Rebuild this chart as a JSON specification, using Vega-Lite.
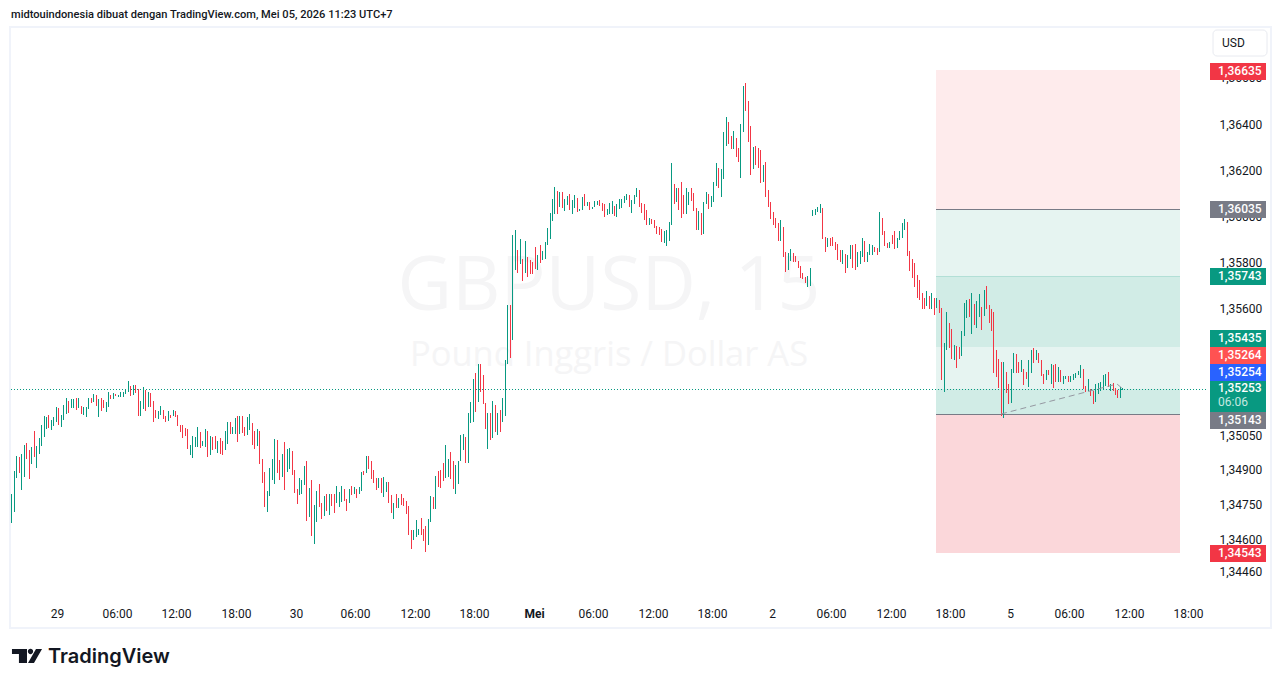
{"$schema":"https://vega.github.io/schema/vega-lite/v6.json","width":1261,"height":601,"autosize":"none","padding":{"left":10,"top":27,"right":10,"bottom":60},"background":"#ffffff","view":{"stroke":"#f0f3fa","strokeWidth":2,"fill":"#ffffff"},"title":{"text":"midtouindonesia dibuat dengan TradingView.com, Mei 05, 2026 11:23 UTC+7","anchor":"start","frame":"group","font":"Roboto","fontSize":11.1,"fontWeight":500,"color":"#131722","offset":7,"dx":1},"datasets":{"candles":[{"i":0,"h":1.34797,"l":1.34671,"d":"u"},{"i":1,"h":1.34897,"l":1.34719,"d":"u"},{"i":2,"h":1.34962,"l":1.34866,"d":"u"},{"i":3,"h":1.34957,"l":1.34888,"d":"d"},{"i":4,"h":1.3497,"l":1.34814,"d":"u"},{"i":5,"h":1.35009,"l":1.34871,"d":"u"},{"i":6,"h":1.35018,"l":1.34949,"d":"d"},{"i":7,"h":1.34988,"l":1.34862,"d":"d"},{"i":8,"h":1.35001,"l":1.34927,"d":"u"},{"i":9,"h":1.3507,"l":1.34957,"d":"d"},{"i":10,"h":1.35005,"l":1.3491,"d":"u"},{"i":11,"h":1.3504,"l":1.3497,"d":"u"},{"i":12,"h":1.35096,"l":1.35005,"d":"u"},{"i":13,"h":1.35135,"l":1.35044,"d":"u"},{"i":14,"h":1.35131,"l":1.35079,"d":"u"},{"i":15,"h":1.3514,"l":1.35083,"d":"d"},{"i":16,"h":1.35118,"l":1.35075,"d":"u"},{"i":17,"h":1.35131,"l":1.35092,"d":"u"},{"i":18,"h":1.35174,"l":1.35109,"d":"u"},{"i":19,"h":1.3517,"l":1.35096,"d":"d"},{"i":20,"h":1.3514,"l":1.35088,"d":"u"},{"i":21,"h":1.35183,"l":1.35118,"d":"u"},{"i":22,"h":1.35213,"l":1.35144,"d":"u"},{"i":23,"h":1.352,"l":1.35148,"d":"d"},{"i":24,"h":1.35209,"l":1.3517,"d":"u"},{"i":25,"h":1.35209,"l":1.3517,"d":"u"},{"i":26,"h":1.35213,"l":1.35161,"d":"d"},{"i":27,"h":1.35213,"l":1.3517,"d":"u"},{"i":28,"h":1.35179,"l":1.35144,"d":"d"},{"i":29,"h":1.35174,"l":1.3514,"d":"u"},{"i":30,"h":1.35174,"l":1.35131,"d":"u"},{"i":31,"h":1.35213,"l":1.35166,"d":"u"},{"i":32,"h":1.35213,"l":1.35192,"d":"d"},{"i":33,"h":1.35231,"l":1.35196,"d":"u"},{"i":34,"h":1.35226,"l":1.35179,"d":"d"},{"i":35,"h":1.35209,"l":1.35131,"d":"u"},{"i":36,"h":1.35213,"l":1.35157,"d":"d"},{"i":37,"h":1.35205,"l":1.3517,"d":"d"},{"i":38,"h":1.35196,"l":1.35153,"d":"u"},{"i":39,"h":1.35239,"l":1.35174,"d":"u"},{"i":40,"h":1.35226,"l":1.35209,"d":"d"},{"i":41,"h":1.35235,"l":1.35209,"d":"u"},{"i":42,"h":1.35231,"l":1.35222,"d":"d"},{"i":43,"h":1.35226,"l":1.35218,"d":"u"},{"i":44,"h":1.35239,"l":1.35218,"d":"u"},{"i":45,"h":1.35239,"l":1.35218,"d":"u"},{"i":46,"h":1.35248,"l":1.35231,"d":"u"},{"i":47,"h":1.35287,"l":1.35239,"d":"u"},{"i":48,"h":1.35265,"l":1.35222,"d":"d"},{"i":49,"h":1.3527,"l":1.35226,"d":"u"},{"i":50,"h":1.3527,"l":1.35235,"d":"d"},{"i":51,"h":1.35252,"l":1.35135,"d":"d"},{"i":52,"h":1.352,"l":1.35135,"d":"u"},{"i":53,"h":1.35261,"l":1.35166,"d":"u"},{"i":54,"h":1.35248,"l":1.35157,"d":"d"},{"i":55,"h":1.35239,"l":1.35174,"d":"u"},{"i":56,"h":1.35235,"l":1.35174,"d":"d"},{"i":57,"h":1.352,"l":1.35109,"d":"d"},{"i":58,"h":1.35161,"l":1.35127,"d":"d"},{"i":59,"h":1.35157,"l":1.35122,"d":"u"},{"i":60,"h":1.35179,"l":1.3514,"d":"u"},{"i":61,"h":1.35161,"l":1.35122,"d":"d"},{"i":62,"h":1.35135,"l":1.35109,"d":"d"},{"i":63,"h":1.35157,"l":1.35114,"d":"u"},{"i":64,"h":1.3514,"l":1.35127,"d":"d"},{"i":65,"h":1.35161,"l":1.35135,"d":"u"},{"i":66,"h":1.35157,"l":1.35131,"d":"d"},{"i":67,"h":1.3514,"l":1.35092,"d":"d"},{"i":68,"h":1.35096,"l":1.35066,"d":"d"},{"i":69,"h":1.35096,"l":1.3504,"d":"d"},{"i":70,"h":1.35083,"l":1.35049,"d":"d"},{"i":71,"h":1.35079,"l":1.34992,"d":"d"},{"i":72,"h":1.35009,"l":1.34966,"d":"u"},{"i":73,"h":1.35049,"l":1.34953,"d":"u"},{"i":74,"h":1.35044,"l":1.35001,"d":"u"},{"i":75,"h":1.35088,"l":1.35001,"d":"u"},{"i":76,"h":1.35066,"l":1.34996,"d":"d"},{"i":77,"h":1.35027,"l":1.35005,"d":"u"},{"i":78,"h":1.35079,"l":1.35001,"d":"u"},{"i":79,"h":1.3507,"l":1.34957,"d":"d"},{"i":80,"h":1.35049,"l":1.34966,"d":"u"},{"i":81,"h":1.35044,"l":1.34988,"d":"d"},{"i":82,"h":1.35049,"l":1.34992,"d":"d"},{"i":83,"h":1.35027,"l":1.34975,"d":"u"},{"i":84,"h":1.3504,"l":1.3497,"d":"d"},{"i":85,"h":1.35027,"l":1.34966,"d":"d"},{"i":86,"h":1.3507,"l":1.34988,"d":"u"},{"i":87,"h":1.35109,"l":1.35014,"d":"u"},{"i":88,"h":1.35109,"l":1.35057,"d":"d"},{"i":89,"h":1.35088,"l":1.35057,"d":"u"},{"i":90,"h":1.35127,"l":1.35057,"d":"u"},{"i":91,"h":1.35135,"l":1.35022,"d":"d"},{"i":92,"h":1.35135,"l":1.35057,"d":"u"},{"i":93,"h":1.35135,"l":1.35062,"d":"d"},{"i":94,"h":1.35088,"l":1.35049,"d":"d"},{"i":95,"h":1.35131,"l":1.35053,"d":"u"},{"i":96,"h":1.35144,"l":1.35075,"d":"u"},{"i":97,"h":1.35105,"l":1.35009,"d":"d"},{"i":98,"h":1.3507,"l":1.34992,"d":"d"},{"i":99,"h":1.35079,"l":1.35005,"d":"u"},{"i":100,"h":1.3507,"l":1.34927,"d":"d"},{"i":101,"h":1.34949,"l":1.34845,"d":"d"},{"i":102,"h":1.34892,"l":1.34741,"d":"d"},{"i":103,"h":1.3481,"l":1.34719,"d":"u"},{"i":104,"h":1.3491,"l":1.34788,"d":"u"},{"i":105,"h":1.34949,"l":1.34858,"d":"u"},{"i":106,"h":1.35035,"l":1.3484,"d":"u"},{"i":107,"h":1.35031,"l":1.34888,"d":"d"},{"i":108,"h":1.34944,"l":1.34858,"d":"d"},{"i":109,"h":1.3497,"l":1.34871,"d":"u"},{"i":110,"h":1.35022,"l":1.34814,"d":"d"},{"i":111,"h":1.34992,"l":1.34892,"d":"u"},{"i":112,"h":1.34996,"l":1.34905,"d":"u"},{"i":113,"h":1.34983,"l":1.34879,"d":"d"},{"i":114,"h":1.34901,"l":1.34801,"d":"d"},{"i":115,"h":1.34819,"l":1.34754,"d":"d"},{"i":116,"h":1.34866,"l":1.34793,"d":"u"},{"i":117,"h":1.34858,"l":1.34797,"d":"u"},{"i":118,"h":1.34918,"l":1.34836,"d":"u"},{"i":119,"h":1.3494,"l":1.3468,"d":"d"},{"i":120,"h":1.34823,"l":1.34697,"d":"u"},{"i":121,"h":1.34858,"l":1.34615,"d":"d"},{"i":122,"h":1.34749,"l":1.3458,"d":"u"},{"i":123,"h":1.3481,"l":1.34676,"d":"u"},{"i":124,"h":1.3484,"l":1.34741,"d":"d"},{"i":125,"h":1.34758,"l":1.34689,"d":"d"},{"i":126,"h":1.34788,"l":1.34702,"d":"u"},{"i":127,"h":1.34797,"l":1.34723,"d":"d"},{"i":128,"h":1.34797,"l":1.34706,"d":"u"},{"i":129,"h":1.34797,"l":1.34745,"d":"d"},{"i":130,"h":1.34797,"l":1.34715,"d":"d"},{"i":131,"h":1.34832,"l":1.34758,"d":"u"},{"i":132,"h":1.34806,"l":1.34741,"d":"u"},{"i":133,"h":1.34832,"l":1.34762,"d":"u"},{"i":134,"h":1.34819,"l":1.34767,"d":"d"},{"i":135,"h":1.34775,"l":1.34723,"d":"d"},{"i":136,"h":1.34819,"l":1.34758,"d":"u"},{"i":137,"h":1.34832,"l":1.34793,"d":"d"},{"i":138,"h":1.34827,"l":1.34797,"d":"u"},{"i":139,"h":1.34819,"l":1.3478,"d":"d"},{"i":140,"h":1.34827,"l":1.34797,"d":"u"},{"i":141,"h":1.34892,"l":1.3481,"d":"u"},{"i":142,"h":1.34897,"l":1.34879,"d":"d"},{"i":143,"h":1.34962,"l":1.34888,"d":"u"},{"i":144,"h":1.34962,"l":1.34905,"d":"d"},{"i":145,"h":1.3494,"l":1.34862,"d":"d"},{"i":146,"h":1.34901,"l":1.34845,"d":"d"},{"i":147,"h":1.34866,"l":1.34814,"d":"d"},{"i":148,"h":1.34866,"l":1.34823,"d":"u"},{"i":149,"h":1.34866,"l":1.34801,"d":"d"},{"i":150,"h":1.34871,"l":1.34784,"d":"u"},{"i":151,"h":1.34849,"l":1.34806,"d":"u"},{"i":152,"h":1.34849,"l":1.34758,"d":"d"},{"i":153,"h":1.34793,"l":1.34715,"d":"d"},{"i":154,"h":1.34758,"l":1.34689,"d":"u"},{"i":155,"h":1.34797,"l":1.34736,"d":"d"},{"i":156,"h":1.3478,"l":1.34736,"d":"u"},{"i":157,"h":1.34797,"l":1.34749,"d":"d"},{"i":158,"h":1.3478,"l":1.34745,"d":"d"},{"i":159,"h":1.34767,"l":1.3471,"d":"d"},{"i":160,"h":1.34745,"l":1.34619,"d":"d"},{"i":161,"h":1.34641,"l":1.34559,"d":"d"},{"i":162,"h":1.34641,"l":1.34598,"d":"u"},{"i":163,"h":1.34684,"l":1.34611,"d":"u"},{"i":164,"h":1.34645,"l":1.34619,"d":"u"},{"i":165,"h":1.34693,"l":1.34619,"d":"d"},{"i":166,"h":1.34645,"l":1.34593,"d":"d"},{"i":167,"h":1.34658,"l":1.34546,"d":"d"},{"i":168,"h":1.34689,"l":1.34576,"d":"u"},{"i":169,"h":1.34788,"l":1.34676,"d":"u"},{"i":170,"h":1.34784,"l":1.34732,"d":"d"},{"i":171,"h":1.34875,"l":1.34732,"d":"u"},{"i":172,"h":1.34897,"l":1.34827,"d":"d"},{"i":173,"h":1.34901,"l":1.34823,"d":"d"},{"i":174,"h":1.34931,"l":1.34853,"d":"d"},{"i":175,"h":1.35009,"l":1.34866,"d":"u"},{"i":176,"h":1.34949,"l":1.34871,"d":"u"},{"i":177,"h":1.34979,"l":1.34862,"d":"d"},{"i":178,"h":1.3494,"l":1.34819,"d":"d"},{"i":179,"h":1.34923,"l":1.34797,"d":"u"},{"i":180,"h":1.3494,"l":1.3484,"d":"u"},{"i":181,"h":1.35053,"l":1.3494,"d":"u"},{"i":182,"h":1.35057,"l":1.34988,"d":"u"},{"i":183,"h":1.35044,"l":1.34931,"d":"d"},{"i":184,"h":1.35148,"l":1.34931,"d":"u"},{"i":185,"h":1.35196,"l":1.35105,"d":"u"},{"i":186,"h":1.35296,"l":1.35109,"d":"u"},{"i":187,"h":1.35322,"l":1.35153,"d":"d"},{"i":188,"h":1.35361,"l":1.35196,"d":"u"},{"i":189,"h":1.35361,"l":1.35239,"d":"d"},{"i":190,"h":1.35313,"l":1.35187,"d":"d"},{"i":191,"h":1.35192,"l":1.35079,"d":"d"},{"i":192,"h":1.35148,"l":1.34992,"d":"u"},{"i":193,"h":1.35148,"l":1.35031,"d":"d"},{"i":194,"h":1.352,"l":1.3504,"d":"u"},{"i":195,"h":1.35183,"l":1.35066,"d":"d"},{"i":196,"h":1.35148,"l":1.35053,"d":"u"},{"i":197,"h":1.35161,"l":1.35066,"d":"d"},{"i":198,"h":1.35213,"l":1.35109,"d":"u"},{"i":199,"h":1.35378,"l":1.35135,"d":"u"},{"i":200,"h":1.35616,"l":1.35361,"d":"u"},{"i":201,"h":1.35616,"l":1.35387,"d":"d"},{"i":202,"h":1.3592,"l":1.35465,"d":"u"},{"i":203,"h":1.35942,"l":1.35768,"d":"u"},{"i":204,"h":1.35855,"l":1.35755,"d":"d"},{"i":205,"h":1.35903,"l":1.35794,"d":"u"},{"i":206,"h":1.35816,"l":1.3572,"d":"d"},{"i":207,"h":1.35894,"l":1.35755,"d":"u"},{"i":208,"h":1.35825,"l":1.35738,"d":"d"},{"i":209,"h":1.35812,"l":1.35751,"d":"d"},{"i":210,"h":1.35803,"l":1.35751,"d":"d"},{"i":211,"h":1.35868,"l":1.35772,"d":"d"},{"i":212,"h":1.35833,"l":1.35768,"d":"u"},{"i":213,"h":1.35877,"l":1.35799,"d":"d"},{"i":214,"h":1.35851,"l":1.35812,"d":"u"},{"i":215,"h":1.3589,"l":1.35816,"d":"u"},{"i":216,"h":1.3595,"l":1.35877,"d":"u"},{"i":217,"h":1.36015,"l":1.35903,"d":"u"},{"i":218,"h":1.36076,"l":1.35981,"d":"u"},{"i":219,"h":1.36128,"l":1.36011,"d":"u"},{"i":220,"h":1.36111,"l":1.36011,"d":"d"},{"i":221,"h":1.36106,"l":1.36041,"d":"u"},{"i":222,"h":1.36106,"l":1.36037,"d":"d"},{"i":223,"h":1.36076,"l":1.36024,"d":"u"},{"i":224,"h":1.36089,"l":1.3605,"d":"u"},{"i":225,"h":1.36098,"l":1.36028,"d":"d"},{"i":226,"h":1.36072,"l":1.36011,"d":"u"},{"i":227,"h":1.36093,"l":1.36037,"d":"u"},{"i":228,"h":1.3608,"l":1.3602,"d":"d"},{"i":229,"h":1.36033,"l":1.36024,"d":"u"},{"i":230,"h":1.36085,"l":1.36028,"d":"u"},{"i":231,"h":1.36098,"l":1.36046,"d":"d"},{"i":232,"h":1.36063,"l":1.36046,"d":"u"},{"i":233,"h":1.36063,"l":1.36028,"d":"d"},{"i":234,"h":1.36041,"l":1.36033,"d":"u"},{"i":235,"h":1.36067,"l":1.36041,"d":"u"},{"i":236,"h":1.36067,"l":1.3605,"d":"u"},{"i":237,"h":1.36072,"l":1.36046,"d":"d"},{"i":238,"h":1.36059,"l":1.36024,"d":"d"},{"i":239,"h":1.36054,"l":1.35998,"d":"d"},{"i":240,"h":1.36033,"l":1.36007,"d":"u"},{"i":241,"h":1.36059,"l":1.36011,"d":"u"},{"i":242,"h":1.36067,"l":1.36011,"d":"u"},{"i":243,"h":1.36046,"l":1.36002,"d":"d"},{"i":244,"h":1.36054,"l":1.35998,"d":"u"},{"i":245,"h":1.36076,"l":1.36033,"d":"u"},{"i":246,"h":1.36076,"l":1.36037,"d":"u"},{"i":247,"h":1.36089,"l":1.36059,"d":"u"},{"i":248,"h":1.36098,"l":1.36072,"d":"u"},{"i":249,"h":1.36093,"l":1.36041,"d":"d"},{"i":250,"h":1.36072,"l":1.36015,"d":"u"},{"i":251,"h":1.36093,"l":1.36054,"d":"u"},{"i":252,"h":1.36124,"l":1.36085,"d":"u"},{"i":253,"h":1.36115,"l":1.36041,"d":"d"},{"i":254,"h":1.36059,"l":1.36015,"d":"d"},{"i":255,"h":1.36054,"l":1.35985,"d":"d"},{"i":256,"h":1.36028,"l":1.35963,"d":"d"},{"i":257,"h":1.35994,"l":1.35963,"d":"u"},{"i":258,"h":1.35989,"l":1.35968,"d":"d"},{"i":259,"h":1.35985,"l":1.3595,"d":"d"},{"i":260,"h":1.35959,"l":1.35924,"d":"d"},{"i":261,"h":1.35955,"l":1.3592,"d":"d"},{"i":262,"h":1.35946,"l":1.3589,"d":"d"},{"i":263,"h":1.35937,"l":1.35885,"d":"u"},{"i":264,"h":1.35942,"l":1.35872,"d":"u"},{"i":265,"h":1.35976,"l":1.35894,"d":"u"},{"i":266,"h":1.36232,"l":1.35963,"d":"u"},{"i":267,"h":1.36141,"l":1.36054,"d":"d"},{"i":268,"h":1.36124,"l":1.36063,"d":"u"},{"i":269,"h":1.36124,"l":1.36028,"d":"d"},{"i":270,"h":1.3615,"l":1.35994,"d":"d"},{"i":271,"h":1.36093,"l":1.36011,"d":"d"},{"i":272,"h":1.36124,"l":1.36011,"d":"u"},{"i":273,"h":1.36106,"l":1.3605,"d":"u"},{"i":274,"h":1.36124,"l":1.36067,"d":"d"},{"i":275,"h":1.36102,"l":1.36024,"d":"d"},{"i":276,"h":1.36037,"l":1.35942,"d":"d"},{"i":277,"h":1.36024,"l":1.35942,"d":"u"},{"i":278,"h":1.36015,"l":1.3592,"d":"d"},{"i":279,"h":1.36063,"l":1.35924,"d":"u"},{"i":280,"h":1.36106,"l":1.36054,"d":"u"},{"i":281,"h":1.36098,"l":1.36033,"d":"d"},{"i":282,"h":1.36089,"l":1.36041,"d":"u"},{"i":283,"h":1.3615,"l":1.36063,"d":"u"},{"i":284,"h":1.36232,"l":1.36132,"d":"u"},{"i":285,"h":1.36211,"l":1.36124,"d":"d"},{"i":286,"h":1.36206,"l":1.36085,"d":"u"},{"i":287,"h":1.36367,"l":1.36163,"d":"u"},{"i":288,"h":1.36432,"l":1.36306,"d":"u"},{"i":289,"h":1.3641,"l":1.36315,"d":"d"},{"i":290,"h":1.36349,"l":1.36293,"d":"d"},{"i":291,"h":1.36371,"l":1.36293,"d":"u"},{"i":292,"h":1.36341,"l":1.36258,"d":"d"},{"i":293,"h":1.36297,"l":1.36237,"d":"d"},{"i":294,"h":1.36401,"l":1.36167,"d":"u"},{"i":295,"h":1.36566,"l":1.36367,"d":"u"},{"i":296,"h":1.36579,"l":1.36458,"d":"d"},{"i":297,"h":1.36501,"l":1.36323,"d":"d"},{"i":298,"h":1.36393,"l":1.3618,"d":"d"},{"i":299,"h":1.36302,"l":1.36206,"d":"u"},{"i":300,"h":1.36306,"l":1.36224,"d":"d"},{"i":301,"h":1.36297,"l":1.36211,"d":"d"},{"i":302,"h":1.36289,"l":1.36145,"d":"d"},{"i":303,"h":1.36224,"l":1.3615,"d":"u"},{"i":304,"h":1.36237,"l":1.36085,"d":"d"},{"i":305,"h":1.36115,"l":1.36041,"d":"d"},{"i":306,"h":1.36063,"l":1.35989,"d":"d"},{"i":307,"h":1.3602,"l":1.35963,"d":"d"},{"i":308,"h":1.35994,"l":1.3595,"d":"d"},{"i":309,"h":1.35972,"l":1.35894,"d":"d"},{"i":310,"h":1.35985,"l":1.35894,"d":"u"},{"i":311,"h":1.35955,"l":1.35825,"d":"d"},{"i":312,"h":1.35846,"l":1.3576,"d":"d"},{"i":313,"h":1.35842,"l":1.35768,"d":"u"},{"i":314,"h":1.35859,"l":1.35807,"d":"u"},{"i":315,"h":1.35842,"l":1.35803,"d":"d"},{"i":316,"h":1.35829,"l":1.35803,"d":"d"},{"i":317,"h":1.35807,"l":1.35777,"d":"d"},{"i":318,"h":1.35786,"l":1.35734,"d":"d"},{"i":319,"h":1.35755,"l":1.35729,"d":"d"},{"i":320,"h":1.35738,"l":1.35712,"d":"d"},{"i":321,"h":1.35742,"l":1.35695,"d":"u"},{"i":322,"h":1.35777,"l":1.35699,"d":"u"},{"i":323,"h":1.36028,"l":1.36002,"d":"u"},{"i":324,"h":1.36033,"l":1.36007,"d":"u"},{"i":325,"h":1.36041,"l":1.3602,"d":"u"},{"i":326,"h":1.36054,"l":1.36015,"d":"u"},{"i":327,"h":1.36037,"l":1.35903,"d":"d"},{"i":328,"h":1.35911,"l":1.35846,"d":"d"},{"i":329,"h":1.35907,"l":1.35868,"d":"u"},{"i":330,"h":1.35907,"l":1.35872,"d":"d"},{"i":331,"h":1.35911,"l":1.35872,"d":"d"},{"i":332,"h":1.3589,"l":1.35855,"d":"d"},{"i":333,"h":1.35881,"l":1.35812,"d":"d"},{"i":334,"h":1.35855,"l":1.35803,"d":"d"},{"i":335,"h":1.35855,"l":1.35794,"d":"u"},{"i":336,"h":1.35838,"l":1.35755,"d":"d"},{"i":337,"h":1.35833,"l":1.35777,"d":"u"},{"i":338,"h":1.35877,"l":1.35816,"d":"u"},{"i":339,"h":1.35877,"l":1.35777,"d":"d"},{"i":340,"h":1.35881,"l":1.35768,"d":"d"},{"i":341,"h":1.35846,"l":1.35781,"d":"u"},{"i":342,"h":1.35851,"l":1.35794,"d":"u"},{"i":343,"h":1.35907,"l":1.35825,"d":"u"},{"i":344,"h":1.35894,"l":1.35803,"d":"d"},{"i":345,"h":1.35846,"l":1.35803,"d":"u"},{"i":346,"h":1.35881,"l":1.35833,"d":"u"},{"i":347,"h":1.35877,"l":1.35833,"d":"u"},{"i":348,"h":1.35868,"l":1.35846,"d":"d"},{"i":349,"h":1.35864,"l":1.35833,"d":"d"},{"i":350,"h":1.3602,"l":1.35846,"d":"u"},{"i":351,"h":1.35994,"l":1.3592,"d":"d"},{"i":352,"h":1.35937,"l":1.35872,"d":"d"},{"i":353,"h":1.35885,"l":1.35864,"d":"d"},{"i":354,"h":1.3589,"l":1.35864,"d":"u"},{"i":355,"h":1.3592,"l":1.35881,"d":"d"},{"i":356,"h":1.35937,"l":1.35859,"d":"d"},{"i":357,"h":1.35907,"l":1.35864,"d":"u"},{"i":358,"h":1.35937,"l":1.35898,"d":"u"},{"i":359,"h":1.35972,"l":1.35907,"d":"u"},{"i":360,"h":1.35989,"l":1.35942,"d":"u"},{"i":361,"h":1.35976,"l":1.35829,"d":"d"},{"i":362,"h":1.35851,"l":1.35764,"d":"d"},{"i":363,"h":1.35816,"l":1.35734,"d":"d"},{"i":364,"h":1.35799,"l":1.35695,"d":"d"},{"i":365,"h":1.35746,"l":1.35646,"d":"d"},{"i":366,"h":1.35724,"l":1.35638,"d":"d"},{"i":367,"h":1.35668,"l":1.35599,"d":"d"},{"i":368,"h":1.35646,"l":1.35599,"d":"d"},{"i":369,"h":1.35677,"l":1.35612,"d":"u"},{"i":370,"h":1.35655,"l":1.35599,"d":"d"},{"i":371,"h":1.35668,"l":1.35599,"d":"u"},{"i":372,"h":1.35646,"l":1.35573,"d":"d"},{"i":373,"h":1.35646,"l":1.35603,"d":"u"},{"i":374,"h":1.35638,"l":1.35581,"d":"d"},{"i":375,"h":1.35603,"l":1.35291,"d":"d"},{"i":376,"h":1.35451,"l":1.35239,"d":"u"},{"i":377,"h":1.35586,"l":1.35421,"d":"u"},{"i":378,"h":1.35538,"l":1.3543,"d":"d"},{"i":379,"h":1.35512,"l":1.35382,"d":"d"},{"i":380,"h":1.35443,"l":1.35378,"d":"u"},{"i":381,"h":1.35438,"l":1.35343,"d":"d"},{"i":382,"h":1.35434,"l":1.35382,"d":"d"},{"i":383,"h":1.35503,"l":1.35395,"d":"u"},{"i":384,"h":1.35625,"l":1.35482,"d":"u"},{"i":385,"h":1.35638,"l":1.3556,"d":"u"},{"i":386,"h":1.35642,"l":1.35564,"d":"d"},{"i":387,"h":1.35668,"l":1.3549,"d":"u"},{"i":388,"h":1.3562,"l":1.35529,"d":"d"},{"i":389,"h":1.35633,"l":1.35516,"d":"u"},{"i":390,"h":1.35664,"l":1.35564,"d":"u"},{"i":391,"h":1.35607,"l":1.35508,"d":"d"},{"i":392,"h":1.35681,"l":1.35568,"d":"u"},{"i":393,"h":1.35698,"l":1.35599,"d":"d"},{"i":394,"h":1.35616,"l":1.35538,"d":"d"},{"i":395,"h":1.35599,"l":1.35503,"d":"d"},{"i":396,"h":1.35586,"l":1.35321,"d":"d"},{"i":397,"h":1.35421,"l":1.35304,"d":"d"},{"i":398,"h":1.35382,"l":1.35256,"d":"d"},{"i":399,"h":1.35369,"l":1.35135,"d":"d"},{"i":400,"h":1.35369,"l":1.35126,"d":"u"},{"i":401,"h":1.35325,"l":1.35234,"d":"d"},{"i":402,"h":1.35273,"l":1.35187,"d":"d"},{"i":403,"h":1.35338,"l":1.35191,"d":"u"},{"i":404,"h":1.35408,"l":1.35321,"d":"u"},{"i":405,"h":1.35404,"l":1.35321,"d":"d"},{"i":406,"h":1.35369,"l":1.35321,"d":"d"},{"i":407,"h":1.35378,"l":1.35325,"d":"u"},{"i":408,"h":1.35338,"l":1.35269,"d":"d"},{"i":409,"h":1.35325,"l":1.35295,"d":"d"},{"i":410,"h":1.35378,"l":1.3526,"d":"u"},{"i":411,"h":1.35421,"l":1.35321,"d":"u"},{"i":412,"h":1.3543,"l":1.35365,"d":"d"},{"i":413,"h":1.35421,"l":1.35378,"d":"u"},{"i":414,"h":1.35408,"l":1.35365,"d":"d"},{"i":415,"h":1.35378,"l":1.35308,"d":"d"},{"i":416,"h":1.35317,"l":1.35273,"d":"d"},{"i":417,"h":1.35334,"l":1.35291,"d":"u"},{"i":418,"h":1.35334,"l":1.35312,"d":"d"},{"i":419,"h":1.3536,"l":1.35273,"d":"u"},{"i":420,"h":1.35356,"l":1.35256,"d":"d"},{"i":421,"h":1.3536,"l":1.35282,"d":"d"},{"i":422,"h":1.35347,"l":1.35282,"d":"u"},{"i":423,"h":1.35334,"l":1.35282,"d":"d"},{"i":424,"h":1.35308,"l":1.35273,"d":"u"},{"i":425,"h":1.35308,"l":1.35295,"d":"u"},{"i":426,"h":1.35308,"l":1.35282,"d":"d"},{"i":427,"h":1.35308,"l":1.35282,"d":"u"},{"i":428,"h":1.35317,"l":1.35291,"d":"u"},{"i":429,"h":1.35321,"l":1.35299,"d":"u"},{"i":430,"h":1.3533,"l":1.35312,"d":"u"},{"i":431,"h":1.35356,"l":1.35299,"d":"u"},{"i":432,"h":1.35338,"l":1.35252,"d":"d"},{"i":433,"h":1.35265,"l":1.35239,"d":"d"},{"i":434,"h":1.35295,"l":1.35243,"d":"u"},{"i":435,"h":1.35252,"l":1.35221,"d":"d"},{"i":436,"h":1.35243,"l":1.35187,"d":"d"},{"i":437,"h":1.35273,"l":1.35195,"d":"u"},{"i":438,"h":1.35278,"l":1.3523,"d":"u"},{"i":439,"h":1.35282,"l":1.35243,"d":"u"},{"i":440,"h":1.35312,"l":1.35252,"d":"u"},{"i":441,"h":1.35317,"l":1.35265,"d":"u"},{"i":442,"h":1.35325,"l":1.3526,"d":"d"},{"i":443,"h":1.35273,"l":1.35243,"d":"u"},{"i":444,"h":1.35278,"l":1.35243,"d":"d"},{"i":445,"h":1.35256,"l":1.35226,"d":"d"},{"i":446,"h":1.35247,"l":1.35213,"d":"d"},{"i":447,"h":1.3526,"l":1.35213,"d":"u"},{"i":448,"h":1.35256,"l":1.35247,"d":"u"}],"tags":[{"label":"1,36635","level":1.36633,"kind":"stop"},{"label":"1,36035","level":1.36035,"kind":"level"},{"label":"1,35743","level":1.35743,"kind":"profit"},{"label":"1,35435","level":1.35475,"kind":"profit"},{"label":"1,35264","level":1.35402,"kind":"bid"},{"label":"1,35254","level":1.35328,"kind":"ask"},{"label":"1,35143","level":1.3512,"kind":"level"},{"label":"1,34543","level":1.34543,"kind":"stop"}]},"layer":[{"data":{"values":[{"label":"GBPUSD, 15","i":241,"price":1.35694}]},"mark":{"type":"text","font":"Open Sans","fontSize":75,"color":"#f5f5f6","align":"center","baseline":"middle"},"encoding":{"x":{"field":"i","type":"quantitative","title":null,"scale":{"domain":[-0.52,507.9],"nice":false,"zero":false,"round":true},"axis":{"orient":"bottom","offset":-15,"values":[19,43,67,91,115,139,163,187,211,235,259,283,307,331,355,379,403,427,451,475],"labelExpr":"['29','06:00','12:00','18:00','30','06:00','12:00','18:00','Mei','06:00','12:00','18:00','2','06:00','12:00','18:00','5','06:00','12:00','18:00'][(datum.value-19)/24]","ticks":false,"domain":false,"grid":false,"labelFont":"Roboto","labelFontSize":12,"labelColor":"#131722","labelPadding":0,"labelBaseline":"middle","labelOffset":-1,"labelOverlap":false,"labelFlush":false,"labelBound":false,"labelFontWeight":{"condition":{"test":"datum.value==211","value":"bold"},"value":"normal"}}},"y":{"field":"price","type":"quantitative","title":null,"scale":{"domain":[1.34217,1.36823],"nice":false,"zero":false,"round":true},"axis":{"orient":"right","offset":-52,"values":[1.366,1.364,1.362,1.36,1.358,1.356,1.3505,1.349,1.3475,1.346,1.3446],"labelExpr":"replace(format(datum.value,'.5f'),'.',',')","ticks":false,"domain":false,"grid":false,"labelFont":"Roboto","labelFontSize":12,"labelColor":"#131722","labelPadding":0,"labelAlign":"left","labelBaseline":"middle","labelOffset":-0.5,"labelOverlap":false,"labelFlush":false,"labelBound":false}},"text":{"field":"label"}}},{"data":{"values":[{"label":"Pound Inggris / Dollar AS","i":241,"price":1.35395}]},"mark":{"type":"text","font":"Open Sans","fontSize":34.5,"color":"#f5f5f6","align":"center","baseline":"middle"},"encoding":{"x":{"field":"i","type":"quantitative","title":null},"y":{"field":"price","type":"quantitative","title":null},"text":{"field":"label"}}},{"data":{"values":[{"upper":1.36635,"lower":1.36035,"zone":"stop2"},{"upper":1.36035,"lower":1.35743,"zone":"profit1"},{"upper":1.35743,"lower":1.35435,"zone":"profit2"},{"upper":1.35435,"lower":1.35253,"zone":"profit1"},{"upper":1.35253,"lower":1.35143,"zone":"profit2"},{"upper":1.35143,"lower":1.34543,"zone":"stop1"}]},"mark":{"type":"rect"},"encoding":{"x":{"datum":372.9,"type":"quantitative","title":null},"x2":{"datum":471.3},"y":{"field":"upper","type":"quantitative","title":null},"y2":{"field":"lower"},"color":{"field":"zone","type":"nominal","legend":null,"scale":{"domain":["stop2","profit1","profit2","stop1"],"range":["#feebec","#e6f4f1","#d1ece6","#fbd7da"]}}}},{"data":{"values":[{"price":1.36035,"kind":"grey"},{"price":1.35743,"kind":"teal"},{"price":1.35143,"kind":"grey"}]},"mark":{"type":"rule","strokeWidth":1,"yOffset":0.5},"encoding":{"x":{"datum":372.9,"type":"quantitative","title":null},"x2":{"datum":471.3},"y":{"field":"price","type":"quantitative","title":null},"color":{"field":"kind","type":"nominal","legend":null,"scale":{"domain":["grey","teal"],"range":["#787b86","#b2dfd6"]}}}},{"data":{"values":[{"price":1.35253}]},"mark":{"type":"rule","strokeWidth":1,"strokeDash":[1,2],"color":"#089981","yOffset":0.5},"encoding":{"x":{"datum":0,"type":"quantitative","title":null},"x2":{"datum":482.5},"y":{"field":"price","type":"quantitative","title":null}}},{"data":{"name":"candles"},"mark":{"type":"rule","strokeWidth":1,"xOffset":0.5},"encoding":{"x":{"field":"i","type":"quantitative","title":null},"y":{"field":"h","type":"quantitative","title":null},"y2":{"field":"l"},"color":{"field":"d","type":"nominal","legend":null,"scale":{"domain":["u","d"],"range":["#089981","#f23645"]}}}},{"data":{"values":[{"i":399,"price":1.35143},{"i":445.8,"price":1.35274},{"i":448.3,"price":1.35253}]},"mark":{"type":"line","color":"#9598a1","strokeWidth":1,"strokeDash":[6,4]},"encoding":{"x":{"field":"i","type":"quantitative","title":null},"y":{"field":"price","type":"quantitative","title":null}}},{"data":{"name":"tags"},"mark":{"type":"rule","strokeWidth":17,"yOffset":0.5},"encoding":{"x":{"datum":483.3,"type":"quantitative","title":null},"x2":{"datum":506},"y":{"field":"level","type":"quantitative","title":null},"color":{"field":"kind","type":"nominal","legend":null,"scale":{"domain":["stop","level","profit","bid","ask"],"range":["#f23645","#787b86","#089981","#ff5252","#2962ff"]}}}},{"data":{"values":[{"level":1.35224}]},"mark":{"type":"rule","strokeWidth":31,"color":"#089981","yOffset":0.5},"encoding":{"x":{"datum":483.3,"type":"quantitative","title":null},"x2":{"datum":506},"y":{"field":"level","type":"quantitative","title":null}}},{"data":{"name":"tags"},"mark":{"type":"text","font":"Roboto","fontSize":12,"fontWeight":500,"color":"#ffffff","align":"left","baseline":"middle"},"encoding":{"x":{"datum":486.7,"type":"quantitative","title":null},"y":{"field":"level","type":"quantitative","title":null},"text":{"field":"label"}}},{"data":{"values":[{"label":"1,35253","level":1.35256}]},"mark":{"type":"text","font":"Roboto","fontSize":12,"fontWeight":500,"color":"#ffffff","align":"left","baseline":"middle"},"encoding":{"x":{"datum":486.7,"type":"quantitative","title":null},"y":{"field":"level","type":"quantitative","title":null},"text":{"field":"label"}}},{"data":{"values":[{"label":"06:06","level":1.35196}]},"mark":{"type":"text","font":"Roboto","fontSize":12,"color":"#c4e8e0","align":"left","baseline":"middle"},"encoding":{"x":{"datum":486.7,"type":"quantitative","title":null},"y":{"field":"level","type":"quantitative","title":null},"text":{"field":"label"}}},{"data":{"values":[{"top":1.36809,"bottom":1.36696}]},"mark":{"type":"rect","fill":"#ffffff","stroke":"#e8eaf0","strokeWidth":1,"cornerRadius":4},"encoding":{"x":{"datum":484.6,"type":"quantitative","title":null},"x2":{"datum":506.4},"y":{"field":"top","type":"quantitative","title":null},"y2":{"field":"bottom"}}},{"data":{"values":[{"label":"USD","price":1.36752}]},"mark":{"type":"text","font":"Roboto","fontSize":12,"color":"#131722","align":"left","baseline":"middle"},"encoding":{"x":{"datum":488.2,"type":"quantitative","title":null},"y":{"field":"price","type":"quantitative","title":null},"text":{"field":"label"}}},{"data":{"values":[{"label":"TradingView","i":14.8,"price":1.3409}]},"mark":{"type":"text","font":"Inter","fontSize":20,"fontWeight":600,"color":"#131722","align":"left","baseline":"middle","clip":false},"encoding":{"x":{"field":"i","type":"quantitative","title":null},"y":{"field":"price","type":"quantitative","title":null},"text":{"field":"label"}}},{"data":{"values":[{"i":6.3,"price":1.34095}]},"mark":{"type":"point","filled":true,"opacity":1,"size":961,"color":"#131722","strokeWidth":0,"shape":"M-0.97 -0.45L0 -0.45L0 0.45L-0.52 0.45L-0.52 -0.13L-0.97 -0.13ZM0.056 -0.29A0.17 0.17 0 1 0 0.396 -0.29A0.17 0.17 0 1 0 0.056 -0.29ZM0.58 -0.45L0.97 -0.45L0.45 0.45L0.065 0.45Z"},"encoding":{"x":{"field":"i","type":"quantitative","title":null},"y":{"field":"price","type":"quantitative","title":null}}}],"resolve":{"scale":{"color":"independent"}}}
